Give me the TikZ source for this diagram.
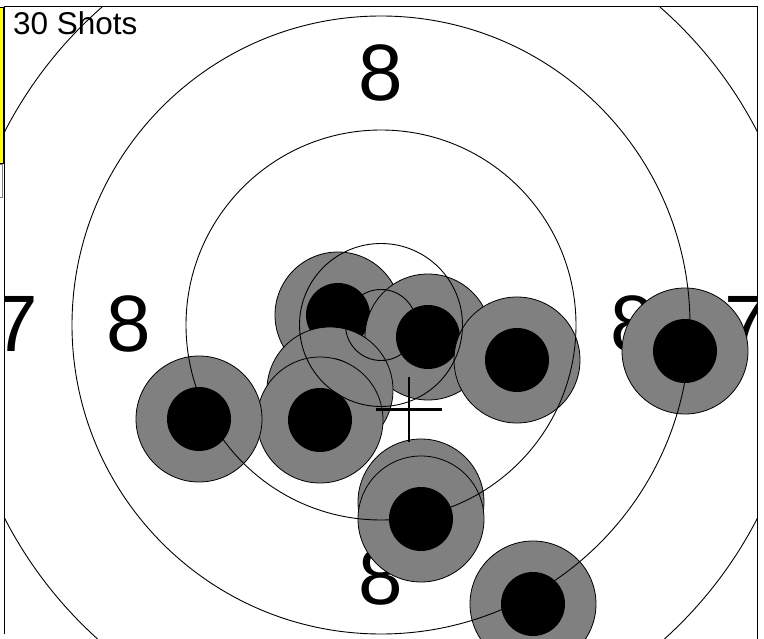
\documentclass[tikz,border=0pt]{standalone}
\usepackage{fontspec}
\setmainfont{Liberation Sans}
\definecolor{shotgray}{RGB}{128,128,128}
\definecolor{tabyellow}{RGB}{255,255,0}
\begin{document}
\begin{tikzpicture}[x=1pt,y=-1pt,
  ring/.style={draw=black,line width=0.9pt},
  shot/.style={circle,draw=black,line width=0.8pt,fill=shotgray,minimum size=126pt,inner sep=0pt},
  core/.style={circle,fill=black,minimum size=64pt,inner sep=0pt},
  ringnum/.style={inner sep=0pt,font=\fontsize{80}{80}\selectfont},
  crossline/.style={draw=black,line width=2.8pt},
  frameline/.style={draw=black,line width=1.5pt}]
\useasboundingbox (0,0) rectangle (764,639);
\fill[white] (0,0) rectangle (764,639);
\begin{scope}
  \clip (5,7) rectangle (757,639);
  % ring numbers
  \node[ringnum] (n8t) at (381,72.5) {8};
  \node[ringnum] (n8l) at (129,324) {8};
  \node[ringnum] (n8r) at (633,324) {8};
  \node[ringnum] (n8b) at (381,577) {8};
  \node[ringnum] (n7l) at (16,324) {7};
  \node[ringnum] (n7r) at (747,324) {7};
  % shots
  \node[shot] (s1) at (338,315) {}; \node[core] (c1) at (s1) {};
  \node[shot] (s2) at (428,337) {}; \node[core] (c2) at (s2) {};
  \node[shot] (s3) at (330,390) {}; \node[core] (c3) at (s3) {};
  \node[shot] (s4) at (320,420) {}; \node[core] (c4) at (s4) {};
  \node[shot] (s6) at (517,360) {}; \node[core] (c6) at (s6) {};
  \node[shot] (s5) at (199,419) {}; \node[core] (c5) at (s5) {};
  \node[shot] (s7) at (685,351) {}; \node[core] (c7) at (s7) {};
  \node[shot] (s8) at (421,502) {}; \node[core] (c8) at (s8) {};
  \node[shot] (s9) at (421,519) {}; \node[core] (c9) at (s9) {};
  \node[shot] (s10) at (533,604) {}; \node[core] (c10) at (s10) {};
  % target rings
  \coordinate (ctr) at (381,325);
  \draw[ring] (ctr) circle[radius=35.5pt];
  \draw[ring] (ctr) circle[radius=81.5pt];
  \draw[ring] (ctr) circle[radius=195pt];
  \draw[ring] (ctr) circle[radius=309pt];
  \draw[ring] (ctr) circle[radius=423pt];
  % mean point of impact
  \coordinate (mpi) at (409,409.5);
  \draw[crossline] ([xshift=-33pt]mpi) -- ([xshift=33pt]mpi);
  \draw[crossline] ([yshift=-32.5pt]mpi) -- ([yshift=32.5pt]mpi);
\end{scope}
% left tab strip
\draw[fill=tabyellow,line width=0.6pt] (-1,7.5) rectangle (3.5,163);
\draw[draw=gray,fill=white,line width=0.6pt] (-1,164) rectangle (2,197);
% frame
\draw[frameline] (4.5,634) -- (4.5,6.5) -- (757.5,6.5) -- (757.5,640);
% title
\node[anchor=base west,inner sep=0pt,font=\fontsize{31.5}{31.5}\selectfont] (title) at (13,35) {30 Shots};
\end{tikzpicture}
\end{document}
